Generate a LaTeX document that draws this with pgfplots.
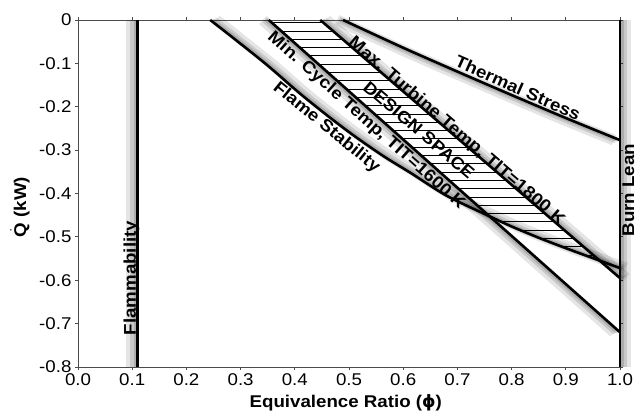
\documentclass[border=0pt]{standalone}
\usepackage{pgfplots}
\usepackage{pgfplotstable}
\pgfplotsset{compat=1.18}
\usepackage{fontspec}
\setmainfont{Liberation Sans}[FakeStretch=1.1]
\newfontfamily\dejavu{DejaVu Sans}
\usetikzlibrary{patterns}

\pgfdeclarepatternformonly{hatchh}{\pgfqpoint{-1pt}{0pt}}{\pgfqpoint{11pt}{8.3pt}}{\pgfqpoint{10pt}{8.3pt}}{%
  \pgfsetlinewidth{0.9pt}%
  \pgfpathmoveto{\pgfqpoint{-1pt}{4.15pt}}\pgfpathlineto{\pgfqpoint{11pt}{4.15pt}}\pgfusepath{stroke}}

\pgfplotstableread{
x y
0.244 0
0.286 -0.041
0.349 -0.104
0.410 -0.170
0.470 -0.230
0.515 -0.272
0.565 -0.315
0.613 -0.352
0.680 -0.405
0.755 -0.450
0.800 -0.476
0.852 -0.503
0.900 -0.526
0.950 -0.549
1.000 -0.572
}\flame
\pgfplotstableread{
x y
0.352 0
1.000 -0.720
}\mincycle
\pgfplotstableread{
x y
0.447 0
1.000 -0.595
}\maxturb
\pgfplotstableread{
x y
0.489 0
0.600 -0.064
0.700 -0.119
0.800 -0.173
0.900 -0.226
1.000 -0.277
}\thermal
\pgfplotstableread{
x y
0.1097 0
0.1097 -0.8
}\flamm
\pgfplotstableread{
x y
1.0 0
1.0 -0.8
}\burn
\pgfplotstableread{
x y
0.352 0
0.447 0
0.964 -0.556
0.950 -0.549
0.900 -0.526
0.852 -0.503
0.800 -0.476
0.755 -0.450
}\design

\tikzset{
  sh1/.style={draw=black, opacity=0.10, line width=11pt},
  sh2/.style={draw=black, opacity=0.12, line width=6.5pt},
  sh3/.style={draw=black, opacity=0.14, line width=3.5pt},
  bline/.style={draw=black, line width=2.6pt},
  lab/.style={font=\fontsize{17}{19}\selectfont\bfseries},
}

\begin{document}
\begin{tikzpicture}
\useasboundingbox (-78pt,-50pt) rectangle (559pt,367pt);
\begin{axis}[
  scale only axis, width=542pt, height=347pt,
  at={(0pt,0pt)}, anchor=south west,
  xmin=0, xmax=1, ymin=-0.8, ymax=0,
  clip=false,
  axis line style={draw=black!70, line width=0.8pt},
  xtick={0,0.1,0.2,0.3,0.4,0.5,0.6,0.7,0.8,0.9,1.0},
  xticklabels={0.0,0.1,0.2,0.3,0.4,0.5,0.6,0.7,0.8,0.9,1.0},
  ytick={-0.8,-0.7,-0.6,-0.5,-0.4,-0.3,-0.2,-0.1,0},
  yticklabels={-0.8,-0.7,-0.6,-0.5,-0.4,-0.3,-0.2,-0.1,0},
  tick align=outside, major tick length=3pt,
  tick style={draw=black!70, line width=0.8pt},
  ticklabel style={font=\fontsize{17}{19}\selectfont},
  xlabel={Equivalence Ratio ({\dejavu\bfseries ϕ})},
  ylabel={$\dot{\mbox{\bfseries Q}}$ (kW)},
  xlabel style={font=\fontsize{17}{19}\selectfont\bfseries, at={(axis description cs:0.494,-0.104)}, anchor=center},
  ylabel style={font=\fontsize{17}{19}\selectfont\bfseries, at={(axis description cs:-0.107,0.461)}, anchor=center},
]
% shadows
\addplot[sh1, xshift=-5.5pt] table {\flamm};
\addplot[sh2, xshift=-3.8pt] table {\flamm};
\addplot[sh3, xshift=-2.2pt] table {\flamm};
\addplot[sh1, xshift=5.5pt] table {\burn};
\addplot[sh2, xshift=3.8pt] table {\burn};
\addplot[sh3, xshift=2.2pt] table {\burn};
\addplot[sh1, xshift=6pt, smooth] table {\flame};
\addplot[sh2, xshift=4pt, smooth] table {\flame};
\addplot[sh3, xshift=2.5pt, smooth] table {\flame};
\addplot[sh1, xshift=-6pt] table {\mincycle};
\addplot[sh2, xshift=-4pt] table {\mincycle};
\addplot[sh3, xshift=-2.5pt] table {\mincycle};
\addplot[sh1, xshift=6pt] table {\maxturb};
\addplot[sh2, xshift=4pt] table {\maxturb};
\addplot[sh3, xshift=2.5pt] table {\maxturb};
\addplot[sh1, xshift=-6pt, smooth] table {\thermal};
\addplot[sh2, xshift=-4pt, smooth] table {\thermal};
\addplot[sh3, xshift=-2.5pt, smooth] table {\thermal};
% design space hatch
\addplot[draw=none, pattern=hatchh, pattern color=black] table {\design} -- cycle;
% boundary lines
\addplot[bline] table {\flamm};
\addplot[bline] table {\burn};
\addplot[bline, smooth] table {\flame};
\addplot[bline] table {\mincycle};
\addplot[bline] table {\maxturb};
\addplot[bline, smooth] table {\thermal};
% labels
\node[lab, rotate=90, anchor=base, inner sep=0pt] at ([xshift=-1.6pt]axis cs:0.1097,-0.595) {Flammability};
\node[lab, rotate=90, anchor=north, inner sep=1pt] at ([xshift=1.3pt]axis cs:1,-0.392) {Burn Lean};
\node[lab, rotate=-39, anchor=north, inner sep=2pt] at (axis cs:0.470,-0.230) {Flame Stability};
\node[lab, rotate=-41.6, anchor=north, inner sep=2.5pt] at (axis cs:0.5447,-0.214) {Min. Cycle Temp, TIT=1600 K};
\node[lab, rotate=-40.7, anchor=base, inner sep=1pt] at (axis cs:0.693,-0.265) {Max. Turbine Temp, TIT=1800 K};
\node[lab, rotate=-40.5, anchor=center] at (axis cs:0.629,-0.2536) {DESIGN SPACE};
\node[lab, rotate=-24, anchor=south, inner sep=2.5pt] at (axis cs:0.805,-0.175) {Thermal Stress};
\end{axis}
\end{tikzpicture}
\end{document}
